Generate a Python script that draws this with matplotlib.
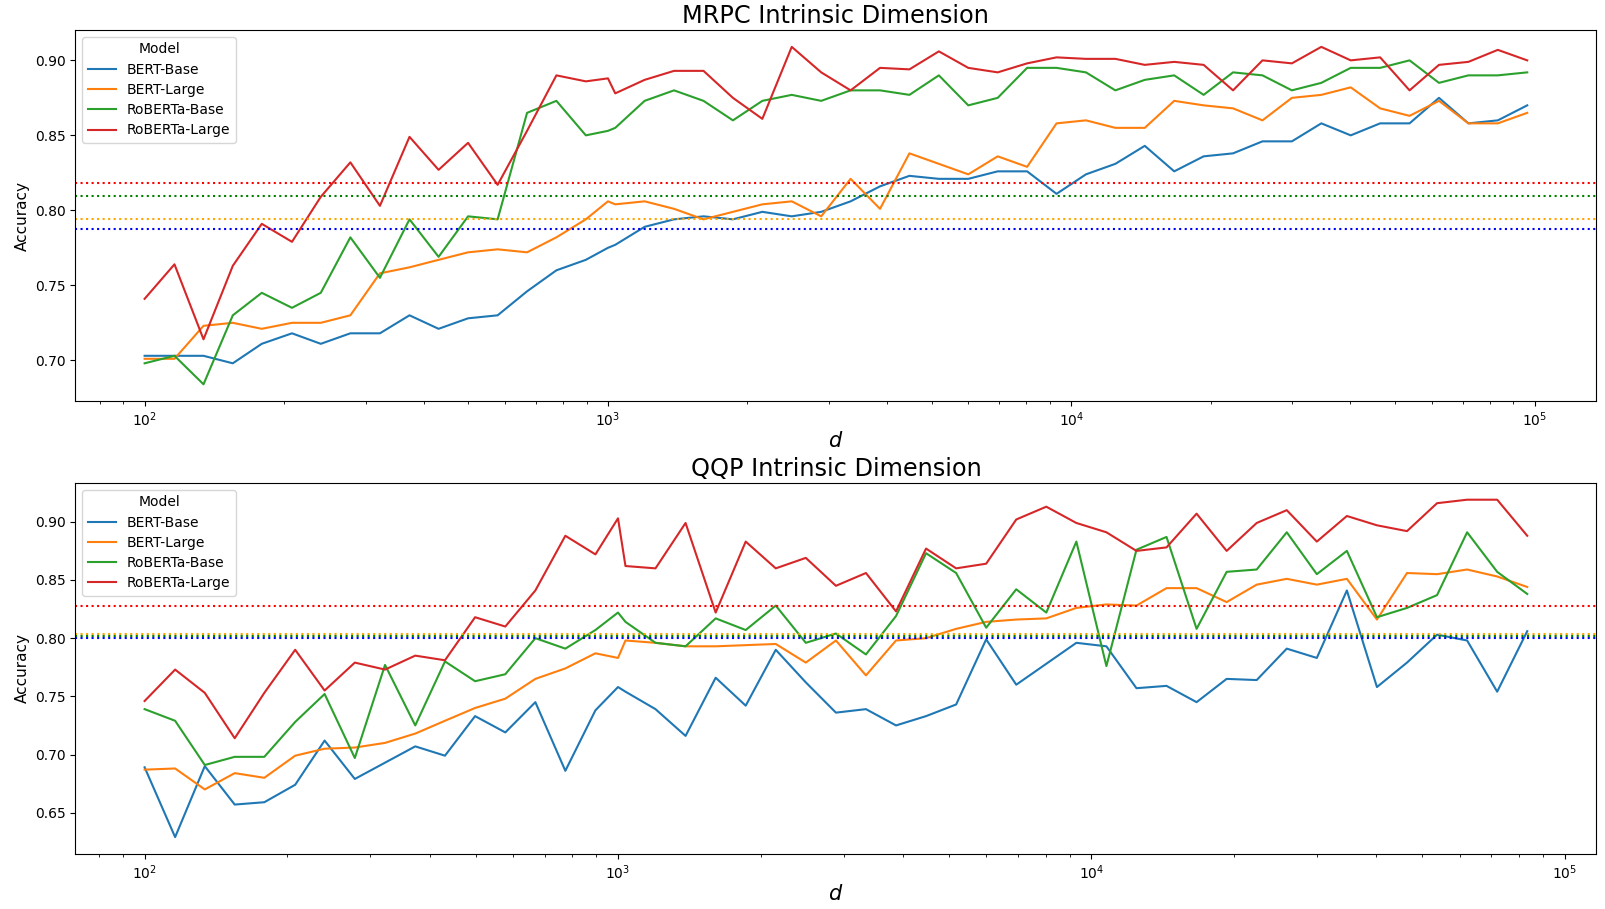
"""MRPC / QQP intrinsic dimension curves for BERT and RoBERTa models."""

import matplotlib
matplotlib.use("Agg")
import matplotlib.pyplot as plt

models = ["BERT-Base", "BERT-Large", "RoBERTa-Base", "RoBERTa-Large"]
line_colors = ["#1f77b4", "#ff7f0e", "#2ca02c", "#d62728"]
ref_colors = ["blue", "orange", "green", "red"]

# subspace dimensions d (log grid plus d=1000)
d_mrpc = [100, 116, 134, 155, 179, 208, 240, 278, 322, 373, 431, 499, 578, 669,
          774, 896, 1000, 1037, 1200, 1389, 1608, 1861, 2154, 2493, 2886, 3340,
          3866, 4474, 5179, 5994, 6938, 8030, 9294, 10757, 12450, 14410, 16680,
          19306, 22345, 25863, 29934, 34647, 40102, 46416, 53723, 62180, 71969,
          83299, 96411]
d_qqp = d_mrpc[:-1]

# MRPC accuracy
mrpc_bert_base = [0.703, 0.703, 0.703, 0.698, 0.711, 0.718, 0.711, 0.718, 0.718, 0.730,
                  0.721, 0.728, 0.730, 0.746, 0.760, 0.767, 0.775,
                  0.777, 0.789, 0.794, 0.796, 0.794, 0.799, 0.796, 0.799, 0.806, 0.816,
                  0.823, 0.821, 0.821, 0.826, 0.826, 0.811,
                  0.824, 0.831, 0.843, 0.826, 0.836, 0.838, 0.846, 0.846, 0.858, 0.850,
                  0.858, 0.858, 0.875, 0.858, 0.860, 0.870]
mrpc_bert_large = [0.701, 0.701, 0.723, 0.725, 0.721, 0.725, 0.725, 0.730, 0.758, 0.762,
                   0.767, 0.772, 0.774, 0.772, 0.782, 0.794, 0.806,
                   0.804, 0.806, 0.801, 0.794, 0.799, 0.804, 0.806, 0.796, 0.821, 0.801,
                   0.838, 0.831, 0.824, 0.836, 0.829, 0.858,
                   0.860, 0.855, 0.855, 0.873, 0.870, 0.868, 0.860, 0.875, 0.877, 0.882,
                   0.868, 0.863, 0.873, 0.858, 0.858, 0.865]
mrpc_roberta_base = [0.698, 0.703, 0.684, 0.730, 0.745, 0.735, 0.745, 0.782, 0.755, 0.794,
                     0.769, 0.796, 0.794, 0.865, 0.873, 0.850, 0.853,
                     0.855, 0.873, 0.880, 0.873, 0.860, 0.873, 0.877, 0.873, 0.880, 0.880,
                     0.877, 0.890, 0.870, 0.875, 0.895, 0.895,
                     0.892, 0.880, 0.887, 0.890, 0.877, 0.892, 0.890, 0.880, 0.885, 0.895,
                     0.895, 0.900, 0.885, 0.890, 0.890, 0.892]
mrpc_roberta_large = [0.741, 0.764, 0.714, 0.763, 0.791, 0.779, 0.809, 0.832, 0.803, 0.849,
                      0.827, 0.845, 0.817, 0.853, 0.890, 0.886, 0.888,
                      0.878, 0.887, 0.893, 0.893, 0.875, 0.861, 0.909, 0.892, 0.880, 0.895,
                      0.894, 0.906, 0.895, 0.892, 0.898, 0.902,
                      0.901, 0.901, 0.897, 0.899, 0.897, 0.880, 0.900, 0.898, 0.909, 0.900,
                      0.902, 0.880, 0.897, 0.899, 0.907, 0.900]
mrpc_full = [0.7875, 0.7942, 0.8096, 0.8185]  # full fine-tuning reference (dotted)

# QQP accuracy
qqp_bert_base = [0.689, 0.629, 0.690, 0.657, 0.659, 0.674, 0.712, 0.679, 0.693, 0.707,
                 0.699, 0.733, 0.719, 0.745, 0.686, 0.738, 0.758,
                 0.754, 0.739, 0.716, 0.766, 0.742, 0.790, 0.762, 0.736, 0.739, 0.725,
                 0.733, 0.743, 0.799, 0.760, 0.778,
                 0.796, 0.793, 0.757, 0.759, 0.745, 0.765, 0.764, 0.791, 0.783, 0.841,
                 0.758, 0.779, 0.803, 0.798, 0.754, 0.806]
qqp_bert_large = [0.687, 0.688, 0.670, 0.684, 0.680, 0.699, 0.705, 0.706, 0.710, 0.718,
                  0.729, 0.740, 0.748, 0.765, 0.774, 0.787, 0.783,
                  0.798, 0.796, 0.793, 0.793, 0.794, 0.795, 0.779, 0.798, 0.768, 0.798,
                  0.800, 0.808, 0.814, 0.816, 0.817,
                  0.826, 0.829, 0.828, 0.843, 0.843, 0.831, 0.846, 0.851, 0.846, 0.851,
                  0.816, 0.856, 0.855, 0.859, 0.853, 0.844]
qqp_roberta_base = [0.739, 0.729, 0.691, 0.698, 0.698, 0.728, 0.752, 0.697, 0.777, 0.725,
                    0.780, 0.763, 0.769, 0.800, 0.791, 0.807, 0.822,
                    0.814, 0.796, 0.793, 0.817, 0.807, 0.828, 0.796, 0.804, 0.786, 0.819,
                    0.873, 0.856, 0.809, 0.842, 0.822,
                    0.883, 0.776, 0.876, 0.887, 0.808, 0.857, 0.859, 0.891, 0.855, 0.875,
                    0.818, 0.826, 0.837, 0.891, 0.857, 0.838]
qqp_roberta_large = [0.746, 0.773, 0.753, 0.714, 0.753, 0.790, 0.755, 0.779, 0.773, 0.785,
                     0.781, 0.818, 0.810, 0.841, 0.888, 0.872, 0.903,
                     0.862, 0.860, 0.899, 0.822, 0.883, 0.860, 0.869, 0.845, 0.856, 0.823,
                     0.877, 0.860, 0.864, 0.902, 0.913,
                     0.899, 0.891, 0.875, 0.878, 0.907, 0.875, 0.899, 0.910, 0.883, 0.905,
                     0.897, 0.892, 0.916, 0.919, 0.919, 0.888]
qqp_full = [0.800, 0.804, 0.802, 0.828]

panels = [
    ("MRPC Intrinsic Dimension", d_mrpc,
     [mrpc_bert_base, mrpc_bert_large, mrpc_roberta_base, mrpc_roberta_large], mrpc_full),
    ("QQP Intrinsic Dimension", d_qqp,
     [qqp_bert_base, qqp_bert_large, qqp_roberta_base, qqp_roberta_large], qqp_full),
]

fig, axes = plt.subplots(2, 1, figsize=(16.06, 9.09), dpi=100)
fig.subplots_adjust(left=0.047, right=0.994, bottom=0.0605, top=0.967, hspace=0.22)

for ax, (title, d, series, full) in zip(axes, panels):
    for name, color, acc in zip(models, line_colors, series):
        ax.plot(d, acc, color=color, linewidth=1.5, label=name)
    for color, val in zip(ref_colors, full):
        ax.axhline(val, color=color, linestyle=":", linewidth=1.5)
    ax.set_xscale("log")
    ax.set_title(title, fontsize=17.28, pad=5)
    ax.set_xlabel("$d$", fontsize=15, labelpad=1)
    ax.set_ylabel("Accuracy", fontsize=11)
    ax.legend(title="Model", loc="upper left", fontsize=10, title_fontsize=10,
              labelspacing=0.45)

fig.savefig("out.png", dpi=100)
plt.close(fig)
